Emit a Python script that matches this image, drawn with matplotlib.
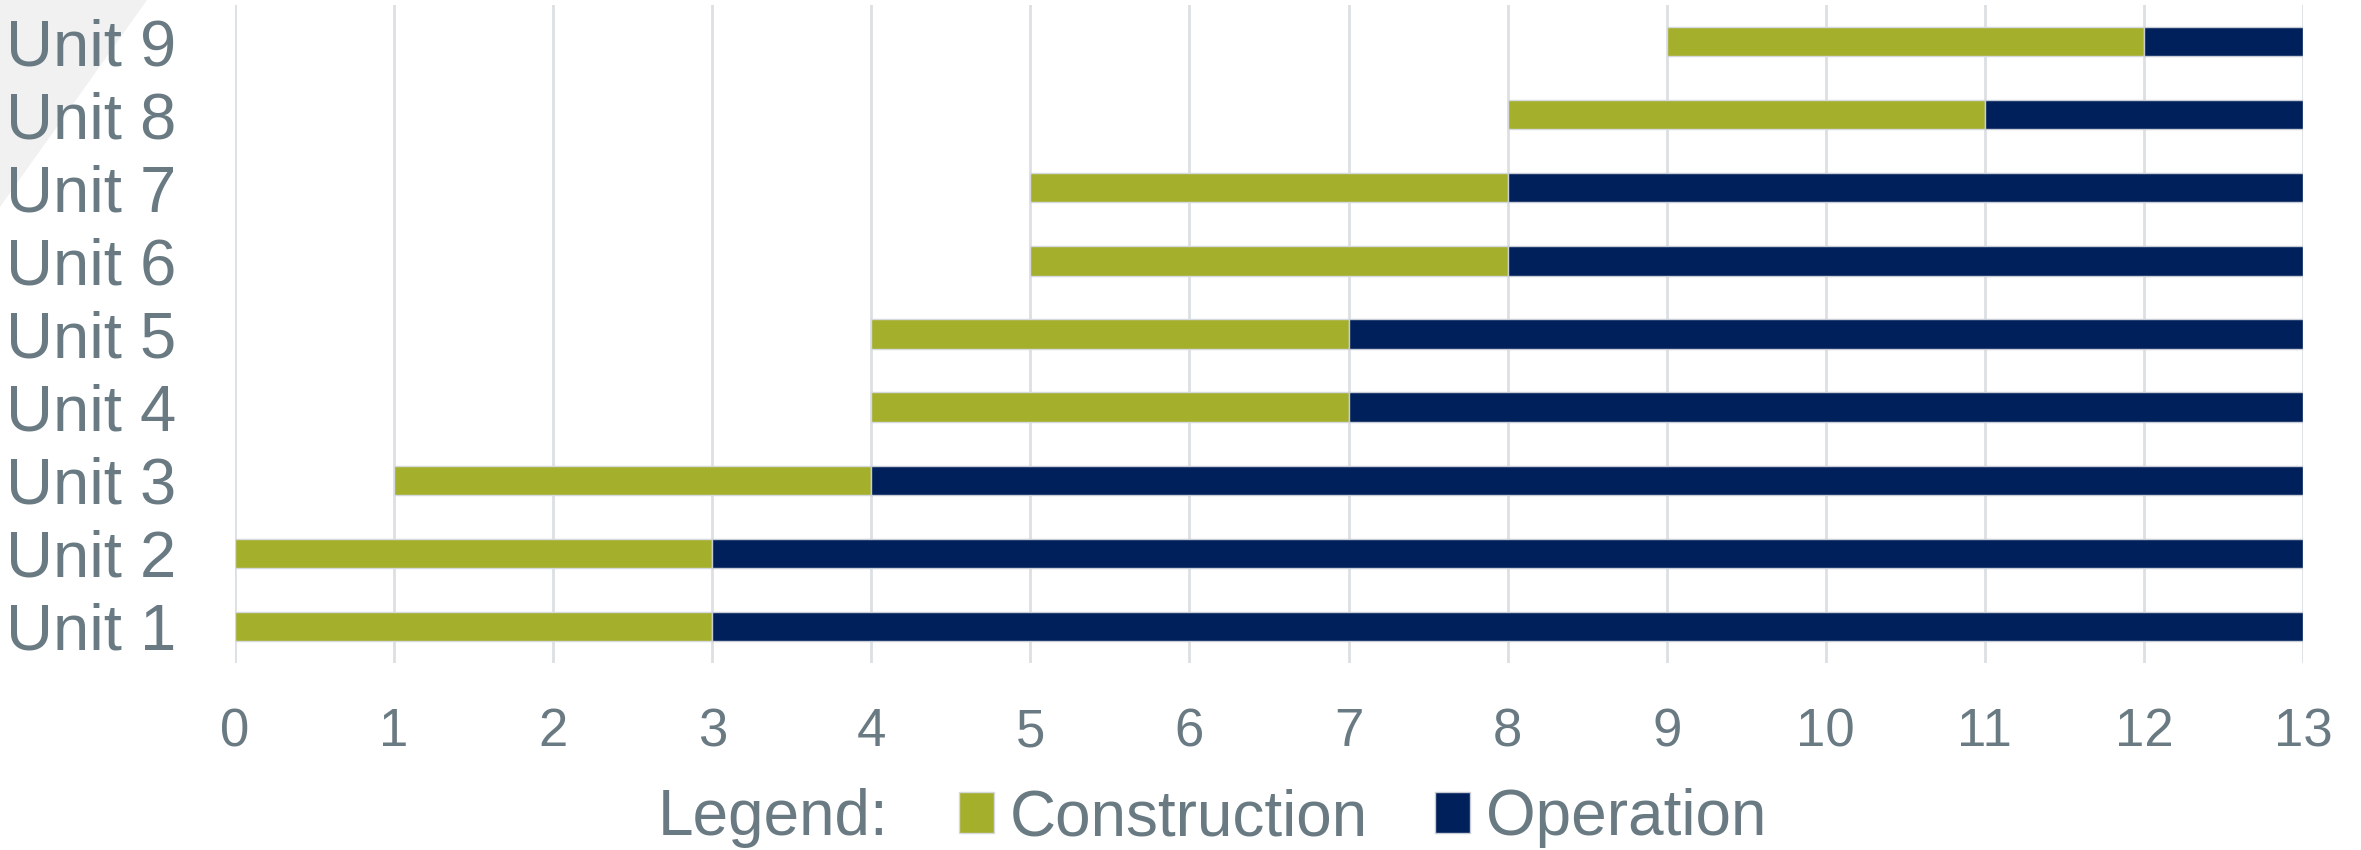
import numpy as np
import matplotlib.pyplot as plt
from matplotlib.patches import Polygon

units = ["Unit 1", "Unit 2", "Unit 3", "Unit 4", "Unit 5",
         "Unit 6", "Unit 7", "Unit 8", "Unit 9"]
construction_start = [0, 0, 1, 4, 4, 5, 5, 8, 9]
construction_end = [3, 3, 4, 7, 7, 8, 8, 11, 12]
operation_end = [13, 13, 13, 13, 13, 13, 13, 13, 13]
xticks = list(range(0, 14))

green = '#A4AF2B'
navy = '#00205B'
textcol = '#697A82'
gridcol = '#DCE0E3'

plt.rcParams['font.family'] = ['Liberation Sans', 'DejaVu Sans']

fig = plt.figure(figsize=(23.61, 8.5), dpi=100)

# light grey corner decoration in the top left (behind everything)
corner = Polygon([[0, 1], [147/2361, 1], [0, 1 - 207/850]],
                 closed=True, transform=fig.transFigure,
                 facecolor='#F1F1F1', edgecolor='none', zorder=-5)
fig.patches.append(corner)

ax = fig.add_axes([235/2361, 1 - 663/850, (2303 - 235)/2361, (663 - 5)/850])
ax.patch.set_alpha(0)

y = np.arange(len(units))
cs = np.array(construction_start)
ce = np.array(construction_end)
oe = np.array(operation_end)

b1 = ax.barh(y, ce - cs, left=cs, height=0.4, color=green,
             edgecolor='#D5D8DD', linewidth=1, label='Construction', zorder=3)
b2 = ax.barh(y, oe - ce, left=ce, height=0.4, color=navy,
             edgecolor='#C8CCD6', linewidth=1, label='Operation', zorder=3)

ax.set_xlim(0, 13)
ax.set_ylim(-0.5, len(units) - 0.5)
ax.set_xticks(xticks)
ax.set_yticks(y)
ax.set_yticklabels(units)
ax.grid(axis='x', color=gridcol, linewidth=2, zorder=0)
ax.set_axisbelow(True)
for s in ax.spines.values():
    s.set_visible(False)
ax.tick_params(axis='x', length=0, pad=32, labelsize=38, labelcolor=textcol)
ax.tick_params(axis='y', length=0, pad=42, labelsize=47, labelcolor=textcol)

fig.text(658/2361, 1 - 818/850, 'Legend:', fontsize=46, color=textcol,
         va='center', ha='left')
fig.legend(handles=[b1, b2], loc='center left', ncol=2, frameon=False,
           bbox_to_anchor=(959/2361, 1 - 818/850), fontsize=46,
           handlelength=0.55, handleheight=0.6, handletextpad=0.25,
           columnspacing=1.05, labelcolor=textcol, borderpad=0,
           borderaxespad=0)

fig.savefig('out.png', dpi=100)
